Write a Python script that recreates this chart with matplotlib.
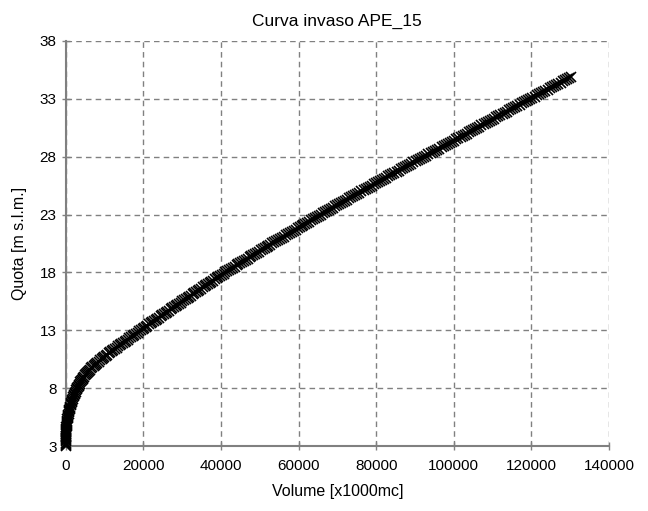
import numpy as np
import matplotlib
matplotlib.use("Agg")
import matplotlib.pyplot as plt

plt.rcParams['font.family'] = ['Liberation Sans Narrow', 'Liberation Sans', 'DejaVu Sans']

# quota sampled every 0.1 m, from 3.0 to 34.9 m s.l.m.
quota = np.round(np.arange(3.0, 34.95, 0.1), 1)

# volume [x1000 mc], one row per metre of quota
volume = [
    0, 1, 3, 6, 10, 15, 21, 29, 38, 48,
    60, 74, 91, 111, 133, 157, 183, 211, 242, 275,
    310, 350, 394, 442, 494, 549, 606, 666, 728, 793,
    860, 930, 1004, 1082, 1164, 1249, 1337, 1428, 1520, 1614,
    1710, 1815, 1925, 2040, 2160, 2285, 2415, 2550, 2690, 2835,
    2985, 3140, 3300, 3465, 3635, 3810, 3990, 4175, 4365, 4560,
    4760, 4990, 5230, 5480, 5740, 6010, 6290, 6580, 6880, 7190,
    7510, 7840, 8180, 8530, 8885, 9245, 9610, 9980, 10355, 10735,
    11120, 11510, 11905, 12305, 12710, 13115, 13525, 13935, 14345, 14755,
    15165, 15585, 16005, 16425, 16845, 17265, 17685, 18105, 18525, 18945,
    19365, 19790, 20215, 20640, 21065, 21490, 21915, 22340, 22765, 23190,
    23615, 24045, 24475, 24905, 25335, 25765, 26195, 26625, 27055, 27485,
    27915, 28350, 28785, 29220, 29655, 30090, 30525, 30960, 31395, 31830,
    32265, 32705, 33145, 33585, 34025, 34465, 34905, 35345, 35785, 36225,
    36665, 37115, 37565, 38015, 38465, 38915, 39365, 39815, 40265, 40715,
    41165, 41640, 42115, 42590, 43065, 43540, 44015, 44490, 44965, 45440,
    45915, 46400, 46885, 47370, 47855, 48340, 48825, 49310, 49795, 50280,
    50765, 51260, 51755, 52250, 52745, 53240, 53735, 54230, 54725, 55220,
    55715, 56220, 56725, 57230, 57735, 58240, 58745, 59250, 59755, 60260,
    60765, 61275, 61785, 62295, 62805, 63315, 63825, 64335, 64845, 65355,
    65865, 66380, 66895, 67410, 67925, 68440, 68955, 69470, 69985, 70500,
    71015, 71535, 72055, 72575, 73095, 73615, 74135, 74655, 75175, 75695,
    76215, 76740, 77265, 77790, 78315, 78840, 79365, 79890, 80415, 80940,
    81465, 82005, 82545, 83085, 83625, 84165, 84705, 85245, 85785, 86325,
    86865, 87415, 87965, 88515, 89065, 89615, 90165, 90715, 91265, 91815,
    92365, 92925, 93485, 94045, 94605, 95165, 95725, 96285, 96845, 97405,
    97965, 98505, 99045, 99585, 100125, 100665, 101205, 101745, 102285, 102825,
    103365, 103905, 104445, 104985, 105525, 106065, 106605, 107145, 107685, 108225,
    108765, 109310, 109855, 110400, 110945, 111490, 112035, 112580, 113125, 113670,
    114215, 114765, 115315, 115865, 116415, 116965, 117515, 118065, 118615, 119165,
    119715, 120270, 120825, 121380, 121935, 122490, 123045, 123600, 124155, 124710,
    125265, 125825, 126385, 126945, 127505, 128065, 128625, 129185, 129745, 130305,
]

xticks = [0, 20000, 40000, 60000, 80000, 100000, 120000, 140000]
yticks = [3, 8, 13, 18, 23, 28, 33, 38]

fig = plt.figure(figsize=(6.48, 5.11), dpi=100)
ax = fig.add_axes([0.1014, 0.1272, 0.8384, 0.7926])

ax.plot(volume, quota, linestyle='none', marker='x', color='black',
        markersize=7, markeredgewidth=1.2, clip_on=False, zorder=3)

ax.set_xlim(0, 140000)
ax.set_ylim(3, 38)
ax.set_xticks(xticks)
ax.set_yticks(yticks)
ax.grid(True, color='#808080', linestyle=(0, (4, 3)), linewidth=1)

for s in ['top', 'right']:
    ax.spines[s].set_visible(False)
for s in ['left', 'bottom']:
    ax.spines[s].set_color('#808080')
    ax.spines[s].set_linewidth(1.5)

ax.tick_params(axis='both', direction='inout', length=6, width=1,
               color='#808080', labelsize=11, labelcolor='black')
ax.tick_params(axis='x', pad=6)

ax.set_title('Curva invaso APE_15', fontsize=12.5, pad=11)
ax.set_xlabel('Volume [x1000mc]', fontsize=11.5, labelpad=8)
ax.set_ylabel('Quota [m s.l.m.]', fontsize=11.5, labelpad=9)

fig.savefig('out.png', dpi=100)
